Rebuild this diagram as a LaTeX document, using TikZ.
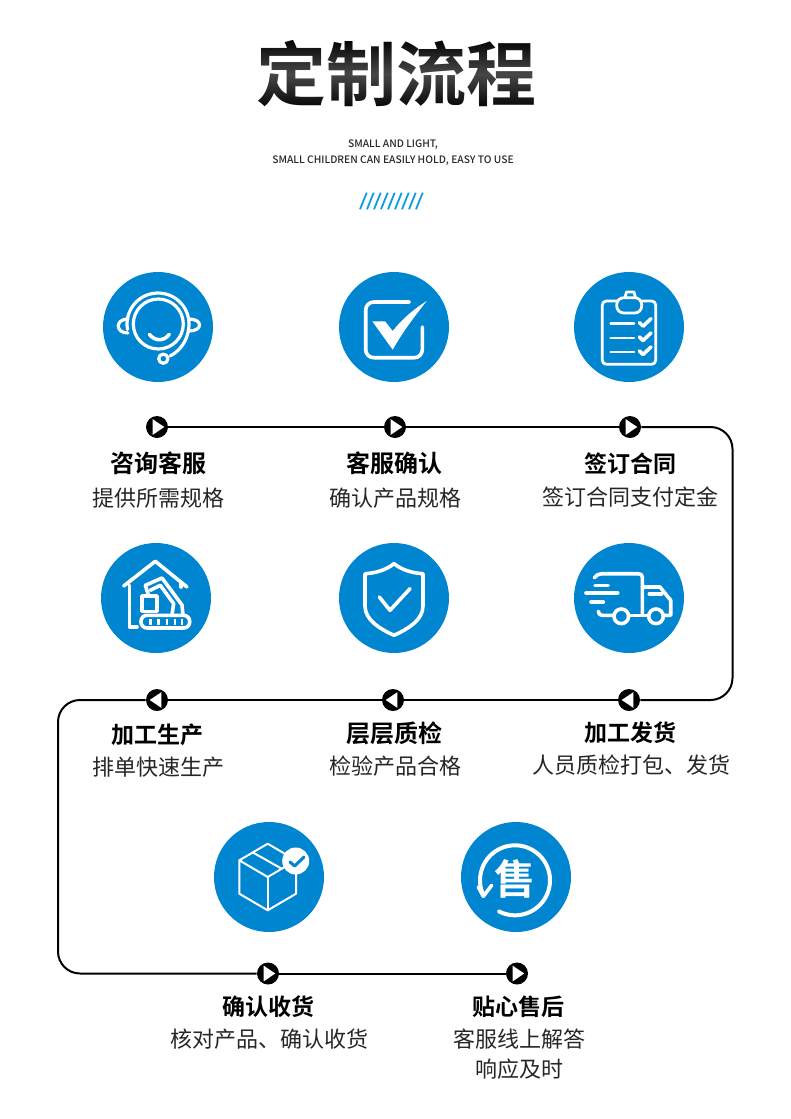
\documentclass[tikz,border=0pt]{standalone}
\usepackage{fontspec}
\setmainfont{Noto Sans CJK SC}[BoldFont={Noto Sans CJK SC Bold}]
\newfontfamily\enfont{Noto Sans CJK SC Medium}
\usetikzlibrary{fadings}
\definecolor{iconblue}{HTML}{0085D1}
\definecolor{slashblue}{HTML}{0C9CE4}
\tikzset{every picture/.style={line width=0.75pt}}
\tikzset{
  iconbg/.style={circle,fill=iconblue,minimum size=110pt,inner sep=0pt},
  iconline/.style={draw=white,line width=3.6pt,line cap=round,line join=round},
  headtext/.style={font=\fontsize{23}{23}\selectfont\bfseries,text=black,inner sep=0pt},
  headwide/.style={headtext,font=\fontsize{24}{24}\selectfont\bfseries},
  subtext/.style={font=\fontsize{22}{22}\selectfont,text=black!85,inner sep=0pt},
  entext/.style={font=\enfont\fontsize{10.25}{10.25}\selectfont,text=black!85,inner sep=0pt},
  flowline/.style={draw=black,line width=2pt},
  flowbend/.style={flowline,rounded corners=22pt},
  dotbase/.style={circle,fill=black,minimum size=22pt,inner sep=0pt},
  dotnext/.style={dotbase,path picture={\fill[white,shift={(path picture bounding box.center)}] (-4.3,7.8) -- (7.3,0) -- (-4.3,-7.8) -- cycle;}},
  dotback/.style={dotbase,path picture={\fill[white,shift={(path picture bounding box.center)}] (4.3,7.8) -- (-7.3,0) -- (4.3,-7.8) -- cycle;}},
}
\tikzfading[name=titlefade,top color=transparent!100,bottom color=transparent!100,middle color=transparent!72]

\begin{document}
\begin{tikzpicture}[x=1pt,y=1pt]
    \useasboundingbox (0,0) rectangle (790,-1119);

    % 标题
    \node[font=\fontsize{70}{70}\selectfont\bfseries,text=black,inner sep=0pt] (title) at (396,-74) {定制流程};
    \fill[white,path fading=titlefade] (250,-38) rectangle (540,-110);
    \node[entext] (enOne) at (393,-145) {SMALL AND LIGHT,};
    \node[entext] (enTwo) at (393,-161) {SMALL CHILDREN CAN EASILY HOLD, EASY TO USE};

    % 斜线
    \foreach \i in {0,...,8}
        \draw[slashblue,line width=1.8pt] (360+7*\i,-209.3) -- (366.7+7*\i,-192.7);

    % 圆形底
    \node[iconbg] (kefu) at (158,-327) {};
    \node[iconbg] (queren) at (394,-327) {};
    \node[iconbg] (hetong) at (629,-327) {};
    \node[iconbg] (jiagong) at (156,-598) {};
    \node[iconbg] (zhijian) at (394,-598) {};
    \node[iconbg] (fahuo) at (629,-598) {};
    \node[iconbg] (shouhuo) at (269,-877) {};
    \node[iconbg] (shouhou) at (516,-877) {};

    % 耳机
    \begin{scope}[shift={(kefu.center)}]
        \draw[iconline,line width=3.2pt] (0.3,3) circle (25);
        \draw[iconline,line width=3.2pt] (-30.5,-2.4) arc (190:-10:31) .. controls (29,-14) and (22,-24) .. (12,-29);
        \draw[iconline] (-8.7,-7.3) .. controls (-3,-14.5) and (6,-14.5) .. (11.3,-7.3);
        \draw[iconline,line width=3.2pt] (5.3,-31.7) circle (4.6);
        \draw[iconline,line width=3.2pt] (-30,8) .. controls (-43,8) and (-43,-6) .. (-30,-6);
        \draw[iconline,line width=3.2pt] (31,8) .. controls (45,8) and (45,-4) .. (31,-4);
    \end{scope}

    % 对勾方框
    \begin{scope}[shift={(queren.center)}]
        \draw[iconline,rounded corners=8pt] (15.3,25) -- (-28.3,25) -- (-28.3,-30.7) -- (28.3,-30.7) -- (28.3,0);
        \fill[white] (-21.7,5.7) -- (-9,5.7) -- (-1.3,-4) .. controls (8,8) and (20,18) .. (32.7,26) .. controls (20,10) and (8,-6) .. (-1.3,-22.7) -- cycle;
    \end{scope}

    % 清单
    \begin{scope}[shift={(hetong.center)}]
        \draw[iconline,line width=2.8pt,rounded corners=4pt] (-12,26) -- (-26.7,26) -- (-26.7,-37.3) -- (26.7,-37.3) -- (26.7,26) -- (12.5,26);
        \draw[iconline,line width=2.8pt,rounded corners=7pt] (-12.3,29.3) rectangle (12.7,14);
        \draw[iconline,line width=2.8pt] (-4,29.3) -- (-2.5,35) -- (5,35) -- (6.5,29.3);
        \foreach \yy in {3.3,-11,-25} {
            \draw[iconline,line width=2.8pt] (-18.3,\yy) -- (5,\yy);
            \draw[iconline] (10.5,\yy+1) -- (14,\yy-2.5) -- (22,\yy+5);
        }
    \end{scope}

    % 厂房挖机
    \begin{scope}[shift={(jiagong.center)}]
        \draw[iconline] (-32.3,12) -- (-0.7,36.7) -- (31,11);
        \draw[iconline] (-26.7,12.7) -- (-26.7,-29) -- (-19,-29);
        \draw[iconline] (25,16) -- (25,11);
        \draw[iconline,rounded corners=6pt] (-15,-17.3) rectangle (33.7,-30);
        \foreach \xx in {-5.5,2.5,11,19,26}
            \draw[iconline,line width=2.4pt,line cap=butt] (\xx,-20.5) -- (\xx,-27);
        \draw[iconline] (-14,2) rectangle (1,-13.3);
        \draw[iconline] (-7.3,2) -- (-10.7,12.7) -- (6,20) -- (26,-7) -- (27,-17);
        \draw[iconline] (-5.7,7.7) -- (4.3,12.7) -- (17.7,-5.7) -- (16,-16.7);
    \end{scope}

    % 盾牌
    \begin{scope}[shift={(zhijian.center)}]
        \draw[iconline] (0,34.3) .. controls (-8,28) and (-18,25) .. (-29,24.3) -- (-29,-8) .. controls (-29,-22) and (-14,-31) .. (0,-37.3) .. controls (14,-31) and (29,-22) .. (29,-8) -- (29,24.3) .. controls (18,25) and (8,28) .. cycle;
        \draw[iconline] (-14.7,1) -- (-4,-12.3) -- (16,9.3);
    \end{scope}

    % 货车
    \begin{scope}[shift={(fahuo.center)}]
        \draw[iconline] (-34.7,20.3) .. controls (-33,23) and (-30,24.3) .. (-27,24.3) -- (9,24.3) .. controls (12,24.3) and (13.3,23) .. (13.3,21) -- (13.3,-17.3);
        \draw[iconline] (-34,12.7) -- (-20.7,12.7);
        \draw[iconline] (-43,5) -- (-11.3,5);
        \draw[iconline] (-38,-4) -- (-25.7,-4);
        \draw[iconline] (-30.7,-13.3) .. controls (-30.5,-16) and (-29,-17.3) .. (-27,-17.3) -- (-15.7,-17.3);
        \draw[iconline] (-7.7,-18.3) circle (7.3);
        \draw[iconline] (0.3,-17.3) -- (18.3,-17.3);
        \draw[iconline] (27,-18.3) circle (7.3);
        \draw[iconline] (35.3,-17.3) -- (41.7,-17.3) -- (41.7,-2.3) -- (31,11) -- (13.3,11);
        \draw[iconline] (20.3,4.3) -- (32.7,4.3);
    \end{scope}

    % 纸箱
    \begin{scope}[shift={(shouhuo.center)}]
        \draw[iconline,line width=2pt] (-1.3,33.3) -- (-29.7,16.7) -- (-1.3,0) -- (27,16.7) -- cycle;
        \draw[iconline,line width=2pt] (-29.7,16.7) -- (-29.7,-16.7) -- (-1.3,-33.3) -- (27,-16.7) -- (27,16.7);
        \draw[iconline,line width=2pt] (-1.3,0) -- (-1.3,-33.3);
        \draw[iconline,line width=2pt] (-15.7,24.3) -- (12.7,8.3);
        \fill[white] (26.7,16) circle (13.5);
        \draw[iconblue,line width=3pt,line cap=round,line join=round] (21,15) -- (25.7,11) -- (35,20);
    \end{scope}

    % 售后
    \begin{scope}[shift={(shouhou.center)}]
        \draw[iconline,line width=4pt] (-1,-3.3) ++(243:35) arc (-117:204:35);
        \draw[iconline,line width=3.6pt] (-37.7,-10) -- (-32.7,-19.3) -- (-24.3,-8.3);
        \node[font=\fontsize{41}{41}\selectfont\bfseries,text=white,inner sep=0pt] (shouzi) at (-1,-1.7) {售};
    \end{scope}

    % 流程线
    \coordinate (cornerA) at (732.5,-427);
    \coordinate (cornerB) at (732.5,-700);
    \coordinate (cornerC) at (58,-700);
    \coordinate (cornerD) at (58,-973.5);
    \node[dotnext] (stepA) at (157,-427) {};
    \node[dotnext] (stepB) at (395,-427) {};
    \node[dotnext] (stepC) at (630,-427) {};
    \node[dotback] (stepD) at (629,-700) {};
    \node[dotback] (stepE) at (393,-700) {};
    \node[dotback] (stepF) at (157,-700) {};
    \node[dotnext] (stepG) at (268,-973.5) {};
    \node[dotnext] (stepH) at (517,-973.5) {};
    \draw[flowline] (stepA) -- (stepB);
    \draw[flowline] (stepB) -- (stepC);
    \draw[flowbend] (stepC) -- (cornerA) -- (cornerB) -- (stepD);
    \draw[flowline] (stepD) -- (stepE);
    \draw[flowline] (stepE) -- (stepF);
    \draw[flowbend] (stepF) -- (cornerC) -- (cornerD) -- (stepG);
    \draw[flowline] (stepG) -- (stepH);

    % 第一行文字
    \node[headwide] (headA) at (158,-463.5) {咨询客服};
    \node[subtext] (subA) at (158,-498) {提供所需规格};
    \node[headwide] (headB) at (394.5,-463.5) {客服确认};
    \node[subtext] (subB) at (395,-498) {确认产品规格};
    \node[headtext] (headC) at (630,-463.5) {签订合同};
    \node[subtext] (subC) at (630,-497) {签订合同支付定金};

    % 第二行文字
    \node[headtext] (headF) at (157.5,-734.5) {加工生产};
    \node[subtext] (subF) at (158,-767) {排单快速生产};
    \node[headwide] (headE) at (394.5,-733.5) {层层质检};
    \node[subtext] (subE) at (395,-766) {检验产品合格};
    \node[headtext] (headD) at (630,-732.5) {加工发货};
    \node[subtext] (subD) at (631,-765) {人员质检打包、发货};

    % 第三行文字
    \node[headtext] (headG) at (268.5,-1006.5) {确认收货};
    \node[subtext] (subG) at (269,-1039) {核对产品、确认收货};
    \node[headtext] (headH) at (518.5,-1006.5) {贴心售后};
    \node[subtext] (subH) at (519,-1039) {客服线上解答};
    \node[subtext] (subI) at (519,-1069) {响应及时};
\end{tikzpicture}
\end{document}
